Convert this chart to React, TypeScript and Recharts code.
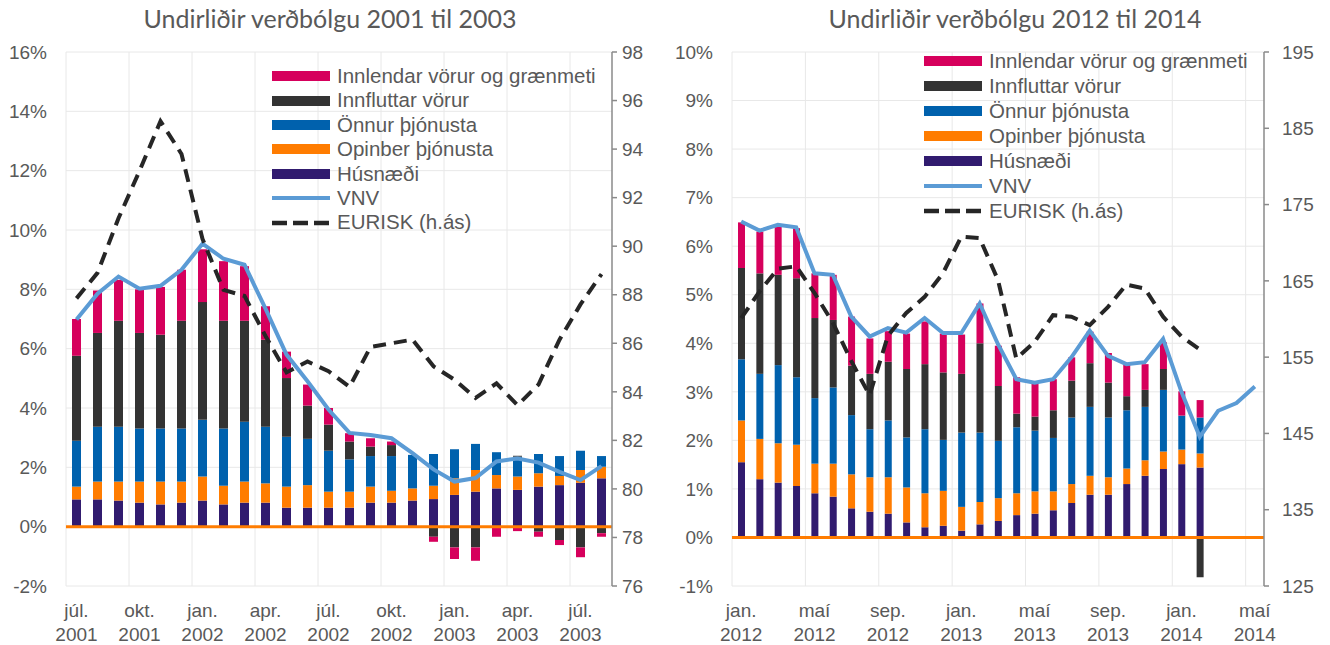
import React from 'react';
import { ComposedChart, Bar, Line, XAxis, YAxis, CartesianGrid, ReferenceLine, Legend } from 'recharts';

// 2001-2003
const months2001 = [
  'júl. 2001', 'ágú. 2001', 'sep. 2001', 'okt. 2001', 'nóv. 2001', 'des. 2001',
  'jan. 2002', 'feb. 2002', 'mar. 2002', 'apr. 2002', 'maí 2002', 'jún. 2002',
  'júl. 2002', 'ágú. 2002', 'sep. 2002', 'okt. 2002', 'nóv. 2002', 'des. 2002',
  'jan. 2003', 'feb. 2003', 'mar. 2003', 'apr. 2003', 'maí 2003', 'jún. 2003',
  'júl. 2003', 'ágú. 2003',
];
const hus2001 = [0.92, 0.92, 0.88, 0.81, 0.75, 0.81, 0.88, 0.75, 0.81, 0.81, 0.64, 0.64, 0.64, 0.64, 0.81, 0.81, 0.88, 0.93, 1.07, 1.18, 1.29, 1.24, 1.35, 1.4, 1.48, 1.63];
const opin2001 = [0.43, 0.6, 0.64, 0.71, 0.77, 0.71, 0.81, 0.63, 0.71, 0.65, 0.71, 0.76, 0.54, 0.54, 0.54, 0.4, 0.41, 0.45, 0.56, 0.73, 0.45, 0.45, 0.45, 0.31, 0.43, 0.39];
const onnur2001 = [1.55, 1.85, 1.85, 1.79, 1.79, 1.79, 1.91, 1.93, 2.02, 1.91, 1.68, 1.56, 1.38, 1.09, 1.03, 1.17, 1.13, 1.07, 0.98, 0.88, 0.77, 0.67, 0.65, 0.67, 0.65, 0.36];
const innfl2001 = [2.86, 3.16, 3.57, 3.22, 3.16, 3.63, 3.97, 3.63, 3.4, 2.93, 1.98, 1.12, 0.88, 0.6, 0.32, 0.37, 0, -0.34, -0.7, -0.7, -0.03, 0.03, -0.17, -0.45, -0.7, -0.22];
const innl2001 = [1.24, 1.43, 1.38, 1.47, 1.61, 1.72, 1.78, 2.01, 1.84, 1.13, 0.89, 0.71, 0.56, 0.28, 0.28, 0.12, 0, -0.17, -0.39, -0.45, -0.31, -0.15, -0.17, -0.17, -0.33, -0.12];
const vnv2001 = [6.98, 7.85, 8.43, 8.02, 8.12, 8.66, 9.54, 9.03, 8.83, 7.35, 5.8, 4.9, 3.95, 3.16, 3.09, 2.98, 2.48, 1.93, 1.52, 1.64, 2.2, 2.3, 2.16, 1.85, 1.57, 2.04];
const eurisk2001 = [87.85, 88.9, 91.15, 93.1, 95.15, 93.8, 90.3, 88.2, 87.95, 86.3, 84.8, 85.25, 84.85, 84.2, 85.85, 86.0, 86.15, 85.05, 84.5, 83.75, 84.35, 83.45, 84.3, 86.15, 87.6, 88.85];

// 2012-2014
const months2012 = [
  'jan. 2012', 'feb. 2012', 'mar. 2012', 'apr. 2012', 'maí 2012', 'jún. 2012',
  'júl. 2012', 'ágú. 2012', 'sep. 2012', 'okt. 2012', 'nóv. 2012', 'des. 2012',
  'jan. 2013', 'feb. 2013', 'mar. 2013', 'apr. 2013', 'maí 2013', 'jún. 2013',
  'júl. 2013', 'ágú. 2013', 'sep. 2013', 'okt. 2013', 'nóv. 2013', 'des. 2013',
  'jan. 2014', 'feb. 2014', 'mar. 2014', 'apr. 2014', 'maí 2014',
];
const hus2012 = [1.55, 1.2, 1.13, 1.06, 0.91, 0.84, 0.6, 0.53, 0.49, 0.31, 0.21, 0.24, 0.14, 0.27, 0.34, 0.46, 0.49, 0.56, 0.71, 0.88, 0.88, 1.1, 1.27, 1.41, 1.51, 1.44];
const opin2012 = [0.86, 0.83, 0.81, 0.85, 0.61, 0.68, 0.7, 0.71, 0.75, 0.72, 0.7, 0.72, 0.49, 0.46, 0.47, 0.45, 0.46, 0.39, 0.39, 0.39, 0.36, 0.32, 0.32, 0.36, 0.3, 0.29];
const onnur2012 = [1.26, 1.34, 1.61, 1.39, 1.35, 1.57, 1.22, 0.99, 1.17, 1.03, 1.32, 1.05, 1.53, 1.43, 1.18, 1.36, 1.25, 1.1, 1.37, 1.42, 1.23, 1.2, 1.1, 1.27, 0.7, 0.74];
const innfl2012 = [1.88, 2.07, 1.86, 2.04, 1.65, 1.39, 1.02, 1.14, 1.21, 1.41, 1.34, 1.39, 1.21, 1.84, 1.13, 0.28, 0.29, 0.57, 0.76, 0.9, 0.72, 0.29, 0.35, 0.43, 0, -0.82];
const innl2012 = [0.94, 0.86, 1.01, 1.03, 0.92, 0.93, 1.01, 0.73, 0.63, 0.73, 0.88, 0.8, 0.81, 0.82, 0.83, 0.75, 0.7, 0.64, 0.48, 0.65, 0.61, 0.66, 0.53, 0.55, 0.5, 0.36];
const vnv2012 = [6.51, 6.32, 6.44, 6.39, 5.44, 5.41, 4.55, 4.14, 4.31, 4.22, 4.52, 4.21, 4.21, 4.82, 3.98, 3.26, 3.19, 3.26, 3.71, 4.26, 3.74, 3.57, 3.61, 4.09, 3.0, 2.07, 2.61, 2.77, 3.11];
const eurisk2012 = [160.1, 163.6, 166.6, 166.9, 163.4, 159.5, 154.5, 150.0, 157.8, 160.8, 162.9, 166.0, 170.8, 170.6, 165.1, 154.8, 157.0, 160.5, 160.3, 159.2, 161.6, 164.5, 164.0, 160.3, 157.7, 156.0];

const SERIES = [
  { key: 'hus', name: 'Húsnæði', color: '#311b6f' },
  { key: 'opin', name: 'Opinber þjónusta', color: '#ff7c00' },
  { key: 'onnur', name: 'Önnur þjónusta', color: '#0061ad' },
  { key: 'innfl', name: 'Innfluttar vörur', color: '#333333' },
  { key: 'innl', name: 'Innlendar vörur og grænmeti', color: '#d6005c' },
];
const VNV_COLOR = '#5b9bd5';
const EURISK_COLOR = '#262626';
const TEXT = '#595959';
const FONT = '"Liberation Sans", Arial, sans-serif';

const buildData = (months, hus, opin, onnur, innfl, innl, vnv, eurisk) =>
  months.map((m, i) => ({
    month: m,
    hus: hus[i], opin: opin[i], onnur: onnur[i], innfl: innfl[i], innl: innl[i],
    vnv: vnv[i], eurisk: eurisk[i],
  }));

const data2001 = buildData(months2001, hus2001, opin2001, onnur2001, innfl2001, innl2001, vnv2001, eurisk2001);
const data2012 = buildData(months2012, hus2012, opin2012, onnur2012, innfl2012, innl2012, vnv2012, eurisk2012);

const MonthTick = (props: any) => {
  const { x, y, payload } = props;
  const parts = String(payload.value).split(' ');
  return (
    <text x={x} y={y} textAnchor="middle" fill={TEXT} fontSize={19} fontFamily={FONT}>
      <tspan x={x} dy={31}>{parts[0]}</tspan>
      <tspan x={x} dy={24}>{parts[1]}</tspan>
    </text>
  );
};

const LegendBox = ({ step }: { step: number }) => {
  const items = [...SERIES].reverse();
  return (
    <div style={{ fontFamily: FONT, fontSize: 20.5, color: TEXT }}>
      {items.map(s => (
        <div key={s.key} style={{ display: 'flex', alignItems: 'center', height: step }}>
          <svg width={58} height={12} style={{ marginRight: 7 }}>
            <rect x={0} y={1} width={58} height={10} fill={s.color} />
          </svg>
          <span style={{ whiteSpace: 'nowrap', lineHeight: 1 }}>{s.name}</span>
        </div>
      ))}
      <div style={{ display: 'flex', alignItems: 'center', height: step }}>
        <svg width={58} height={12} style={{ marginRight: 7 }}>
          <line x1={0} y1={6} x2={58} y2={6} stroke={VNV_COLOR} strokeWidth={4} strokeLinecap="round" />
        </svg>
        <span style={{ whiteSpace: 'nowrap', lineHeight: 1 }}>VNV</span>
      </div>
      <div style={{ display: 'flex', alignItems: 'center', height: step }}>
        <svg width={58} height={12} style={{ marginRight: 7 }}>
          <line x1={0} y1={6} x2={58} y2={6} stroke={EURISK_COLOR} strokeWidth={4.5} strokeDasharray="15 6" />
        </svg>
        <span style={{ whiteSpace: 'nowrap', lineHeight: 1 }}>EURISK (h.ás)</span>
      </div>
    </div>
  );
};

const Panel = (props: any) => {
  const {
    left, title, titleX, data, leftDomain, leftTicks, rightDomain, rightTicks,
    interval, gridStep, barSize, leftAxisWidth, rightAxisWidth, rightTickMargin,
    legendLeft, legendTop, legendStep,
  } = props;
  const n = data.length;
  return (
    <div style={{ position: 'absolute', left, top: 0, width: 665, height: 645 }}>
      <svg width={665} height={40} style={{ position: 'absolute', left: 0, top: 0 }}>
        <text x={titleX} y={28} textAnchor="middle" fill={TEXT} fontSize={25} fontFamily="Lato, 'Open Sans', sans-serif">
          {title}
        </text>
      </svg>
      <ComposedChart
        width={665}
        height={645}
        data={data}
        stackOffset="sign"
        margin={{ top: 52, right: 8, bottom: 0, left: 0 }}
        style={{ position: 'absolute', left: 0, top: 0 }}
      >
        <CartesianGrid
          yAxisId="left"
          stroke="#e8e8e8"
          strokeWidth={1}
          verticalCoordinatesGenerator={({ offset }: any) => {
            const pts: number[] = [];
            for (let i = 0; i < n; i += gridStep) pts.push(offset.left + (i * offset.width) / n);
            return pts;
          }}
        />
        <XAxis
          dataKey="month"
          interval={interval}
          axisLine={false}
          tickLine={false}
          tickSize={0}
          tickMargin={0}
          height={59}
          tick={<MonthTick />}
        />
        <YAxis
          yAxisId="left"
          domain={leftDomain}
          ticks={leftTicks}
          width={leftAxisWidth}
          axisLine={false}
          tickLine={false}
          tickSize={0}
          tickMargin={19}
          tickFormatter={(v: number) => `${v}%`}
          tick={{ fill: TEXT, fontSize: 19, fontFamily: FONT }}
          allowDataOverflow
        />
        <YAxis
          yAxisId="right"
          orientation="right"
          domain={rightDomain}
          ticks={rightTicks}
          width={rightAxisWidth}
          axisLine={{ stroke: '#8a8a8a', strokeWidth: 1.5 }}
          tickLine={{ stroke: '#8a8a8a', strokeWidth: 1.5 }}
          tickSize={5}
          tickMargin={rightTickMargin}
          tick={{ fill: TEXT, fontSize: 19, fontFamily: FONT, textAnchor: 'start' }}
          allowDataOverflow
        />
        {SERIES.map(s => (
          <Bar
            key={s.key}
            yAxisId="left"
            dataKey={s.key}
            name={s.name}
            stackId="a"
            fill={s.color}
            barSize={barSize}
            isAnimationActive={false}
          />
        ))}
        <ReferenceLine yAxisId="left" y={0} stroke="#ff7c00" strokeWidth={3} />
        <Line
          yAxisId="left"
          dataKey="vnv"
          name="VNV"
          type="linear"
          stroke={VNV_COLOR}
          strokeWidth={4}
          dot={false}
          isAnimationActive={false}
        />
        <Line
          yAxisId="right"
          dataKey="eurisk"
          name="EURISK (h.ás)"
          type="linear"
          stroke={EURISK_COLOR}
          strokeWidth={4}
          strokeDasharray="13 8"
          dot={false}
          isAnimationActive={false}
        />
        <Legend
          layout="vertical"
          align="center"
          verticalAlign="middle"
          wrapperStyle={{ left: legendLeft, top: legendTop, width: 340 }}
          content={() => <LegendBox step={legendStep} />}
        />
      </ComposedChart>
    </div>
  );
};

export default function App() {
  return (
    <div style={{ position: 'absolute', left: 0, top: 0, width: 1330, height: 645, background: '#fff', overflow: 'hidden' }}>
      <Panel
        left={0}
        title="Undirliðir verðbólgu 2001 til 2003"
        titleX={330}
        data={data2001}
        leftDomain={[-2, 16]}
        leftTicks={[-2, 0, 2, 4, 6, 8, 10, 12, 14, 16]}
        rightDomain={[76, 98]}
        rightTicks={[76, 78, 80, 82, 84, 86, 88, 90, 92, 94, 96, 98]}
        interval={2}
        gridStep={3}
        barSize={9}
        leftAxisWidth={66}
        rightAxisWidth={45}
        rightTickMargin={5}
        legendLeft={272}
        legendTop={64}
        legendStep={24.4}
      />
      <Panel
        left={665}
        title="Undirliðir verðbólgu 2012 til 2014"
        titleX={350}
        data={data2012}
        leftDomain={[-1, 10]}
        leftTicks={[-1, 0, 1, 2, 3, 4, 5, 6, 7, 8, 9, 10]}
        rightDomain={[125, 195]}
        rightTicks={[125, 135, 145, 155, 165, 175, 185, 195]}
        interval={3}
        gridStep={4}
        barSize={7}
        leftAxisWidth={67}
        rightAxisWidth={58}
        rightTickMargin={13}
        legendLeft={259}
        legendTop={48.5}
        legendStep={25}
      />
    </div>
  );
}
